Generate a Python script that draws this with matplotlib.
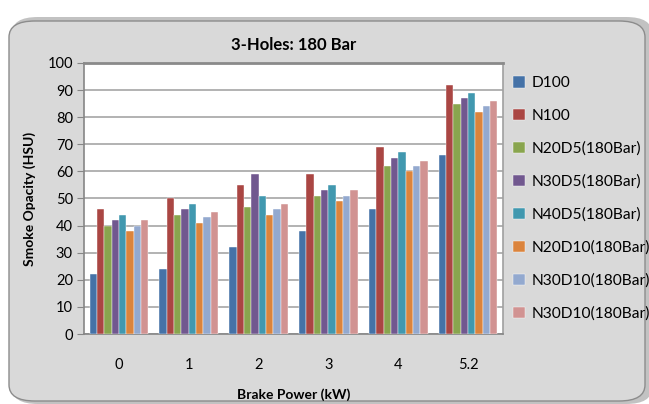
import matplotlib.pyplot as plt
import numpy as np
from matplotlib.patches import FancyBboxPatch

plt.rcParams['font.family'] = ['Lato', 'DejaVu Sans']

# data
power = ['0', '1', '2', '3', '4', '5.2']
series = ['D100', 'N100', 'N20D5(180Bar)', 'N30D5(180Bar)', 'N40D5(180Bar)',
          'N20D10(180Bar)', 'N30D10(180Bar)', 'N30D10(180Bar)']
d100 = [22, 24, 32, 38, 46, 66]
n100 = [46, 50, 55, 59, 69, 92]
n20d5 = [40, 44, 47, 51, 62, 85]
n30d5 = [42, 46, 59, 53, 65, 87]
n40d5 = [44, 48, 51, 55, 67, 89]
n20d10 = [38, 41, 44, 49, 60, 82]
n30d10 = [40, 43, 46, 51, 62, 84]
n30d10b = [42, 45, 48, 53, 64, 86]
values = [d100, n100, n20d5, n30d5, n40d5, n20d10, n30d10, n30d10b]
colors = ['#4572A7', '#AA4643', '#89A54E', '#71588F', '#4198AF',
          '#DB843D', '#93A9CF', '#D19392']

fig = plt.figure(figsize=(6.49, 4.04), dpi=100)
fig.patch.set_facecolor('white')

# rounded grey chart frame with a soft shadow
shadow = FancyBboxPatch((12 / 649, 0.0), 640 / 649, 1 - 17 / 404,
                        boxstyle='round,pad=0,rounding_size=0.04',
                        transform=fig.transFigure, facecolor='#9a9a9a',
                        edgecolor='none', alpha=0.6, zorder=-3)
frame = FancyBboxPatch((9 / 649, 3 / 404), 636 / 649, 1 - 24 / 404,
                       boxstyle='round,pad=0,rounding_size=0.04',
                       transform=fig.transFigure, facecolor='#d9d9d9',
                       edgecolor='#8c8c8c', linewidth=1.0, zorder=-2)
fig.patches.extend([shadow, frame])

ax = fig.add_axes([84 / 649, 1 - 334 / 404, 419 / 649, 271 / 404])
ax.set_zorder(1)
ax.set_facecolor('white')

x = np.arange(len(power))
w = 0.105
for i, (vals, name, c) in enumerate(zip(values, series, colors)):
    ax.bar(x + (i - 3.5) * w, vals, width=w, color=c, label=name,
           edgecolor='white', linewidth=0.3, zorder=3)

ax.set_xlim(-0.5, len(power) - 0.5)
ax.set_ylim(0, 100)
ax.set_yticks(np.arange(0, 101, 10))
ax.set_xticks(x)
ax.set_xticklabels(power)
ax.yaxis.grid(True, color='#a6a6a6', linewidth=1.2, zorder=0)
ax.tick_params(axis='y', length=5, color='#868686', labelsize=10.5, pad=3)
ax.tick_params(axis='x', length=0, labelsize=10.5, pad=17)
for s in ['left', 'bottom', 'right', 'top']:
    ax.spines[s].set_color('#a0a0a0')
    ax.spines[s].set_linewidth(1.2)
ax.spines['top'].set_color('#8a8a8a')
ax.spines['top'].set_linewidth(2.0)
ax.spines['left'].set_color('#868686')
ax.spines['bottom'].set_color('#868686')

ax.set_title('3-Holes: 180 Bar', fontsize=12, fontweight='bold', pad=9)
ax.set_xlabel('Brake Power (kW)', fontsize=10, fontweight='bold')
ax.xaxis.set_label_coords(0.5, -0.2)
ax.set_ylabel('Smoke Opacity (HSU)', fontsize=10, fontweight='bold', labelpad=8)

leg = fig.legend(loc='upper left', bbox_to_anchor=(507 / 649, 1 - 70 / 404),
                 frameon=False, fontsize=11.2, handlelength=0.75,
                 handleheight=0.75, handletextpad=0.45, labelspacing=1.2,
                 borderaxespad=0)
leg.set_zorder(2)

fig.savefig('out.png', dpi=100)
